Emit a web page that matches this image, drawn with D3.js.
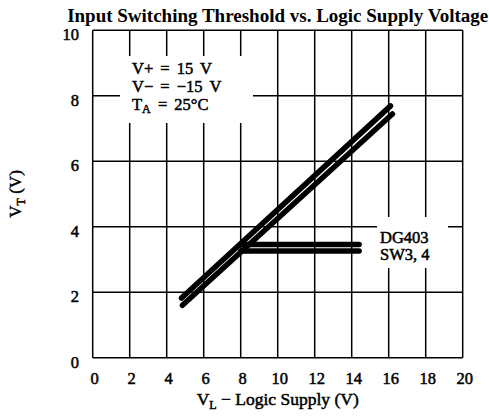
<!DOCTYPE html>
<html>
<head>
<meta charset="utf-8">
<script src="https://cdn.jsdelivr.net/npm/d3@7"></script>
<style>
    body { margin: 0; background: white; }
    text { font-family: "Liberation Serif", "Times New Roman", serif; fill: black; }
    .heavy { stroke: black; stroke-width: 0.5px; }
</style>
</head>
<body>
<div id="chart"></div>
<script>
// values
const xTicks = [0, 2, 4, 6, 8, 10, 12, 14, 16, 18, 20];
const yTicks = [0, 2, 4, 6, 8, 10];

// the diagonal pair (V_L in volts, V_T in volts)
const diagHighVL = [4.8, 16.1];
const diagHighVT = [1.82, 7.69];
const diagLowVL = [4.85, 16.2];
const diagLowVT = [1.6, 7.44];

// DG403 SW3,4 branch that flattens out
const flatVL = [8.0, 14.4];
const flatHighVT = [3.46, 3.46];
const flatLowVT = [3.26, 3.26];

const title = 'Input Switching Threshold vs. Logic Supply Voltage';
const conditions = [['V+ = 15 V', null], ['V− = −15 V', null], ['T', 'A', ' = 25°C']];
const partLabel = ['DG403', 'SW3, 4'];

const W = 489, H = 418;
const margin = {top: 30.2, right: 26.3, bottom: 60.3, left: 92.7};

let svg = d3.select('#chart').append('svg')
        .attr('width', W)
        .attr('height', H)
        .style('background-color', 'white');

let x = d3.scaleLinear()
        .domain([0, 20])
        .range([margin.left, W - margin.right]);

let y = d3.scaleLinear()
        .domain([0, 10])
        .range([H - margin.bottom, margin.top]);

// grid
let grid = svg.append('g').attr('class', 'grid')
        .attr('stroke', 'black')
        .attr('stroke-width', 1.5);

grid.selectAll('line.vx')
        .data(xTicks)
        .enter()
        .append('line')
        .attr('class', 'vx')
        .attr('x1', d => x(d)).attr('x2', d => x(d))
        .attr('y1', y(0)).attr('y2', y(10));

grid.selectAll('line.hy')
        .data(yTicks)
        .enter()
        .append('line')
        .attr('class', 'hy')
        .attr('x1', x(0)).attr('x2', x(20))
        .attr('y1', d => y(d)).attr('y2', d => y(d));

// white patches that knock the grid out behind the labels
svg.append('rect')
        .attr('x', 120).attr('y', 56)
        .attr('width', 133).attr('height', 67)
        .attr('fill', 'white');

svg.append('rect')
        .attr('x', 377).attr('y', 217)
        .attr('width', 71).attr('height', 51)
        .attr('fill', 'white');

// curves
let line = d3.line()
        .x(d => x(d[0]))
        .y(d => y(d[1]));

let curves = [
    d3.zip(diagHighVL, diagHighVT),
    d3.zip(diagLowVL, diagLowVT),
    d3.zip(flatVL, flatHighVT),
    d3.zip(flatVL, flatLowVT)
];

svg.append('g').attr('class', 'curves')
        .selectAll('path')
        .data(curves)
        .enter()
        .append('path')
        .attr('d', line)
        .attr('fill', 'none')
        .attr('stroke', 'black')
        .attr('stroke-width', 5.5)
        .attr('stroke-linecap', 'round');

// tick labels
svg.append('g')
        .selectAll('text')
        .data(xTicks)
        .enter()
        .append('text')
        .attr('class', 'heavy')
        .attr('x', d => x(d) + 2)
        .attr('y', 384)
        .attr('text-anchor', 'middle')
        .style('font-size', '16.5px')
        .text(d => d);

svg.append('g')
        .selectAll('text')
        .data(yTicks)
        .enter()
        .append('text')
        .attr('class', 'heavy')
        .attr('x', 79)
        .attr('y', d => y(d) + 10)
        .attr('text-anchor', 'end')
        .style('font-size', '16.5px')
        .text(d => d);

// title
svg.append('text')
        .attr('x', (x(0) + x(20)) / 2)
        .attr('y', 22)
        .attr('text-anchor', 'middle')
        .style('font-size', '19px')
        .style('font-weight', 'bold')
        .text(title);

// x axis title with subscript
let xt = svg.append('text')
        .attr('class', 'heavy')
        .attr('x', (x(0) + x(20)) / 2)
        .attr('y', 405)
        .attr('text-anchor', 'middle')
        .style('font-size', '17.5px');
xt.append('tspan').text('V');
xt.append('tspan').attr('dy', 4).style('font-size', '12px').text('L');
xt.append('tspan').attr('dy', -4).text(' − Logic Supply (V)');

// y axis title, rotated
let yt = svg.append('text')
        .attr('class', 'heavy')
        .attr('transform', 'translate(21,' + ((y(0) + y(10)) / 2) + ') rotate(-90)')
        .attr('text-anchor', 'middle')
        .style('font-size', '17px');
yt.append('tspan').text('V');
yt.append('tspan').attr('dy', 4).style('font-size', '12px').text('T');
yt.append('tspan').attr('dy', -4).text(' (V)');

// test conditions
let cond = svg.append('g').attr('class', 'conditions')
        .style('font-size', '16.5px')
        .style('word-spacing', '3px');
cond.append('text').attr('class', 'heavy').attr('x', 132).attr('y', 73.5).text(conditions[0][0]);
cond.append('text').attr('class', 'heavy').attr('x', 132).attr('y', 92).text(conditions[1][0]);
let ta = cond.append('text').attr('class', 'heavy').attr('x', 132).attr('y', 110);
ta.append('tspan').text(conditions[2][0]);
ta.append('tspan').attr('dy', 3).style('font-size', '12px').text(conditions[2][1]);
ta.append('tspan').attr('dy', -3).text(conditions[2][2]);

// part label
svg.append('g')
        .selectAll('text')
        .data(partLabel)
        .enter()
        .append('text')
        .attr('class', 'heavy')
        .attr('x', 380)
        .attr('y', (d, i) => 242.5 + i * 17.5)
        .style('font-size', '16.5px')
        .text(d => d);
</script>
</body>
</html>
